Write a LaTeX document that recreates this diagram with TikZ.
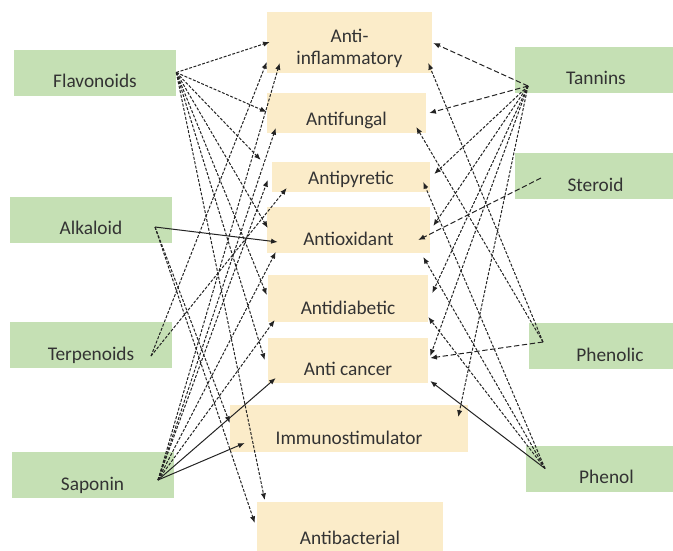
\documentclass[tikz,border=0pt]{standalone}
\usepackage{fontspec}
\setsansfont{Carlito}
\usetikzlibrary{arrows.meta, calc}
\definecolor{herbgreen}{RGB}{197,224,180}
\definecolor{actcream}{RGB}{251,236,201}
\definecolor{linkgray}{RGB}{35,35,35}
\tikzset{
    font=\sffamily\fontsize{14.5}{17}\selectfont,
    compound/.style={
        rectangle,
        fill=herbgreen,
        text=black!80,
        inner xsep=0pt,
        inner ysep=0pt,
        minimum width=121.5pt,
        text height=28.5pt,
        text depth=6pt
    },
    activity/.style={
        rectangle,
        fill=actcream,
        text=black!80,
        inner xsep=0pt,
        inner ysep=0pt,
        text height=#1,
        text depth=6pt
    },
    link/.style={
        -{Latex[length=5pt, width=4pt]},
        linkgray,
        line width=0.75pt,
        dash pattern=on 2.2pt off 1.2pt
    },
    link_long/.style={
        link,
        dash pattern=on 4pt off 2pt
    },
    link_solid/.style={
        link,
        solid
    }
}

\begin{document}
\begin{tikzpicture}[x=0.75pt, y=-0.75pt]
\useasboundingbox (0,0) rectangle (673,550);

% --- Activities (middle column) ---
\node[activity=31.35pt, text depth=14.4pt, minimum width=123.75pt] (AntiInflam) at (349.5,42.5)
    {\begin{tabular}{@{}c@{}}Anti-\\inflammatory\end{tabular}};
\node[activity=24pt, minimum width=119.25pt] (Antifungal) at (346.5,113) {Antifungal};
\node[activity=16.5pt, minimum width=118.5pt] (Antipyretic) at (351,177) {Antipyretic};
\node[activity=28.5pt, minimum width=122.25pt] (Antioxidant) at (348.5,230) {Antioxidant};
\node[activity=29.25pt, minimum width=120pt] (Antidiabetic) at (348,298.5) {Antidiabetic};
\node[activity=27.75pt, minimum width=120pt] (Anticancer) at (348,360.5) {Anti cancer};
\node[activity=29.25pt, minimum width=178.5pt] (Immuno) at (349,428.5) {Immunostimulator};
\node[activity=31.5pt, minimum width=139.5pt] (Antibacterial) at (350,527) {Antibacterial};

% --- Compounds, left ---
\node[compound] (Flavonoids) at (95,72.5) {Flavonoids};
\node[compound] (Alkaloid) at (91,219.5) {Alkaloid};
\node[compound] (Terpenoids) at (91,345) {Terpenoids};
\node[compound] (Saponin) at (92.5,475) {Saponin};

% --- Compounds, right ---
\node[compound] (Tannins) at (596,69.5) {Tannins};
\node[compound] (Steroid) at (595.5,176) {Steroid};
\node[compound] (Phenolic) at (610,346) {Phenolic};
\node[compound] (Phenol) at (606.5,468.5) {Phenol};

% --- Where the arrows leave ---
\coordinate (flav_src) at (Flavonoids.east);
\coordinate (alk_src) at ($(Alkaloid.center)+(64,7.5)$);
\coordinate (terp_src) at ($(Terpenoids.center)+(60,11)$);
\coordinate (sap_src) at ($(Saponin.center)+(65.5,5)$);
\coordinate (tan_src) at ($(Tannins.center)+(-68,16.5)$);
\coordinate (ster_src) at ($(Steroid.center)+(-54.5,2)$);
\coordinate (phc_src) at ($(Phenolic.center)+(-67,-4)$);
\coordinate (phl_src) at ($(Phenol.center)+(-61.5,0)$);

% --- Flavonoids ---
\draw[link] (flav_src) -- ($(AntiInflam.west)+(3,-0.5)$);
\draw[link] (flav_src) -- ($(Antifungal.west)+(0,-1)$);
\draw[link] (flav_src) -- ($(Antipyretic.west)+(-11,-17)$);
\draw[link] (flav_src) -- ($(Antioxidant.west)+(1,-2)$);
\draw[link] (flav_src) -- ($(Antidiabetic.west)+(-1,-3.5)$);
\draw[link] (flav_src) -- ($(Anticancer.west)+(-3,-0.5)$);
\draw[link] (flav_src) -- ($(Antibacterial.west)+(8,-27)$);

% --- Alkaloid ---
\draw[link_solid] (alk_src) -- ($(Antioxidant.west)+(11,12)$);
\draw[link] (alk_src) -- ($(Immuno.west)+(0,-5.5)$);
\draw[link] (alk_src) -- ($(Antibacterial.west)+(-2,-4)$);

% --- Terpenoids ---
\draw[link] (terp_src) -- ($(AntiInflam.west)+(0,19.5)$);
\draw[link] (terp_src) -- ($(Antipyretic.west)+(15,11)$);

% --- Saponin ---
\draw[link] (sap_src) -- ($(AntiInflam.west)+(13,20.5)$);
\draw[link] (sap_src) -- ($(Antifungal.west)+(9,15)$);
\draw[link] (sap_src) -- ($(Antipyretic.west)+(-4,3)$);
\draw[link] (sap_src) -- ($(Antioxidant.west)+(9,22)$);
\draw[link] (sap_src) -- ($(Antidiabetic.west)+(7,21.5)$);
\draw[link_solid] (sap_src) -- ($(Anticancer.west)+(8,17.5)$);
\draw[link_solid] (sap_src) -- ($(Immuno.west)+(15,14.5)$);

% --- Tannins ---
\draw[link_long] (tan_src) -- ($(AntiInflam.east)+(1,0.5)$);
\draw[link_long] (tan_src) -- ($(Antifungal.east)+(3,0)$);
\draw[link] (tan_src) -- ($(Antipyretic.east)+(4,-3)$);
\draw[link] (tan_src) -- ($(Antioxidant.east)+(3,-4)$);
\draw[link] (tan_src) -- ($(Antidiabetic.east)+(4,-5.5)$);
\draw[link] (tan_src) -- ($(Anticancer.east)+(2,-4.5)$);
\draw[link] (tan_src) -- ($(Immuno.east)+(-10,-11.5)$);

% --- Steroid ---
\draw[link_long] (ster_src) -- ($(Antioxidant.east)+(-12,10)$);

% --- Phenolic ---
\draw[link] (phc_src) -- ($(AntiInflam.east)+(-4,20.5)$);
\draw[link] (phc_src) -- ($(Antifungal.east)+(-10,14)$);
\draw[link_long] (phc_src) -- ($(Anticancer.east)+(2,-2.5)$);

% --- Phenol ---
\draw[link] (phl_src) -- ($(Antipyretic.east)+(-7,5)$);
\draw[link] (phl_src) -- ($(Antioxidant.east)+(-7,27)$);
\draw[link] (phl_src) -- ($(Antidiabetic.east)+(0,18.5)$);
\draw[link_solid] (phl_src) -- ($(Anticancer.east)+(2,20.5)$);

\end{tikzpicture}
\end{document}
